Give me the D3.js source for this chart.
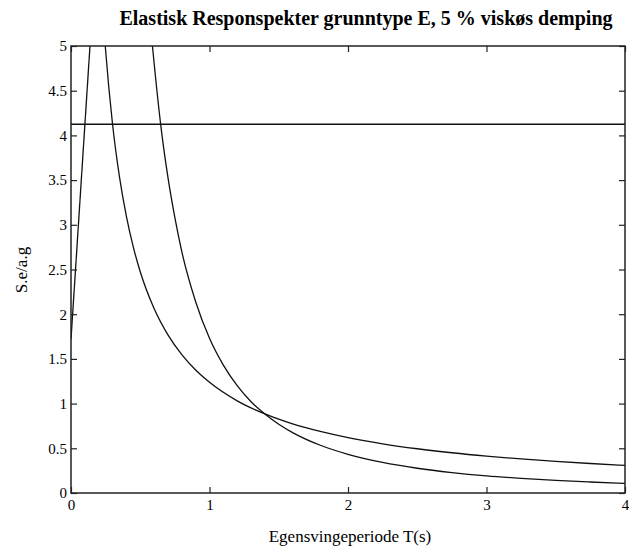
<!DOCTYPE html>
<html>
<head>
<meta charset="utf-8">
<script src="https://cdn.jsdelivr.net/npm/d3@7"></script>
<style>
  body { margin: 0; background: #fff; }
  svg { display: block; }
  text { font-family: "Liberation Serif", "Times New Roman", serif; fill: #000; }
</style>
</head>
<body>
<svg id="chart" width="629" height="558"></svg>
<script>
// ---- data ----
const xTicks = [0, 1, 2, 3, 4];
const yTicks = [0, 0.5, 1, 1.5, 2, 2.5, 3, 3.5, 4, 4.5, 5];
const xTickLabels = ["0", "1", "2", "3", "4"];
const yTickLabels = ["0", "0.5", "1", "1.5", "2", "2.5", "3", "3.5", "4", "4.5", "5"];

// rising branch (T < TB), clipped at top
const riseT = [0, 0.137];
const riseS = [1.72, 5.0];

// plateau level
const plateauT = [0, 4];
const plateauS = [4.125, 4.125];

// ~1/T branch
const branchAT = [0.2475, 0.25, 0.3, 0.35, 0.4, 0.45, 0.5, 0.6, 0.7, 0.8, 0.9, 1.0, 1.2, 1.4, 1.6, 1.8, 2.0, 2.25, 2.5, 2.75, 3.0, 3.25, 3.5, 3.75, 4.0];
const branchAS = [5.0, 4.95, 4.125, 3.536, 3.094, 2.75, 2.475, 2.063, 1.768, 1.547, 1.375, 1.238, 1.031, 0.884, 0.773, 0.688, 0.619, 0.55, 0.495, 0.45, 0.4125, 0.381, 0.354, 0.33, 0.309];

// ~1/T^2 branch
const branchBT = [0.588, 0.6, 0.65, 0.7, 0.75, 0.8, 0.9, 1.0, 1.1, 1.2, 1.3, 1.4, 1.5, 1.6, 1.8, 2.0, 2.25, 2.5, 2.75, 3.0, 3.25, 3.5, 3.75, 4.0];
const branchBS = [5.0, 4.81, 4.09, 3.53, 3.08, 2.70, 2.14, 1.73, 1.43, 1.20, 1.02, 0.883, 0.769, 0.676, 0.534, 0.433, 0.342, 0.277, 0.229, 0.192, 0.164, 0.141, 0.123, 0.108];

const title = "Elastisk Responspekter grunntype E, 5 % viskøs demping";
const xTitle = "Egensvingeperiode T(s)";
const yTitle = "S.e/a.g";

// ---- layout ----
const svg = d3.select("#chart");
const mLeft = 71, mRight = 625, mTop = 46, mBottom = 493;

const x = d3.scaleLinear().domain([0, 4]).range([mLeft, mRight]);
const y = d3.scaleLinear().domain([0, 5]).range([mBottom, mTop]);

svg.append("clipPath").attr("id", "clip")
  .append("rect").attr("x", mLeft).attr("y", mTop).attr("width", mRight - mLeft).attr("height", mBottom - mTop);

const line = d3.line().x(d => x(d[0])).y(d => y(d[1]));
const smooth = d3.line().x(d => x(d[0])).y(d => y(d[1])).curve(d3.curveMonotoneX);

const zip = (a, b) => a.map((v, i) => [v, b[i]]);

const g = svg.append("g").attr("clip-path", "url(#clip)");
g.append("path").datum(zip(riseT, riseS)).attr("d", line)
  .attr("fill", "none").attr("stroke", "#111").attr("stroke-width", 1.3);
g.append("path").datum(zip(plateauT, plateauS)).attr("d", line)
  .attr("fill", "none").attr("stroke", "#111").attr("stroke-width", 1.3);
g.append("path").datum(zip(branchAT, branchAS)).attr("d", smooth)
  .attr("fill", "none").attr("stroke", "#111").attr("stroke-width", 1.3);
g.append("path").datum(zip(branchBT, branchBS)).attr("d", smooth)
  .attr("fill", "none").attr("stroke", "#111").attr("stroke-width", 1.3);

// axes with inward ticks
const tickLen = 6;
const axL = d3.axisLeft(y).tickValues(yTicks).tickSize(-tickLen).tickPadding(4)
  .tickFormat((d, i) => yTickLabels[i]);
const axB = d3.axisBottom(x).tickValues(xTicks).tickSize(-tickLen).tickPadding(6)
  .tickFormat((d, i) => xTickLabels[i]);
const axR = d3.axisRight(y).tickValues(yTicks).tickSize(-tickLen).tickFormat("");
const axT = d3.axisTop(x).tickValues(xTicks).tickSize(-tickLen).tickFormat("");

function style(sel) {
  sel.select(".domain").remove();
  sel.selectAll(".tick line").attr("stroke", "#222").attr("stroke-width", 1.2);
  sel.selectAll(".tick text").attr("font-family", "Liberation Serif, serif")
    .attr("font-size", 15).attr("fill", "#000");
}
svg.append("g").attr("transform", `translate(${mLeft},0)`).call(axL).call(style);
svg.append("g").attr("transform", `translate(0,${mBottom})`).call(axB).call(style);
svg.append("g").attr("transform", `translate(${mRight},0)`).call(axR).call(style);
svg.append("g").attr("transform", `translate(0,${mTop})`).call(axT).call(style);

svg.append("rect").attr("x", mLeft).attr("y", mTop).attr("width", mRight - mLeft).attr("height", mBottom - mTop)
  .attr("fill", "none").attr("stroke", "#222").attr("stroke-width", 1.5);

svg.append("text").attr("x", 366).attr("y", 25)
  .attr("text-anchor", "middle").attr("font-weight", "bold").attr("font-size", 20)
  .text(title);
svg.append("text").attr("x", 350).attr("y", 542)
  .attr("text-anchor", "middle").attr("font-size", 17).text(xTitle);
svg.append("text").attr("transform", `translate(27,270) rotate(-90)`)
  .attr("text-anchor", "middle").attr("font-size", 17).text(yTitle);
</script>
</body>
</html>
